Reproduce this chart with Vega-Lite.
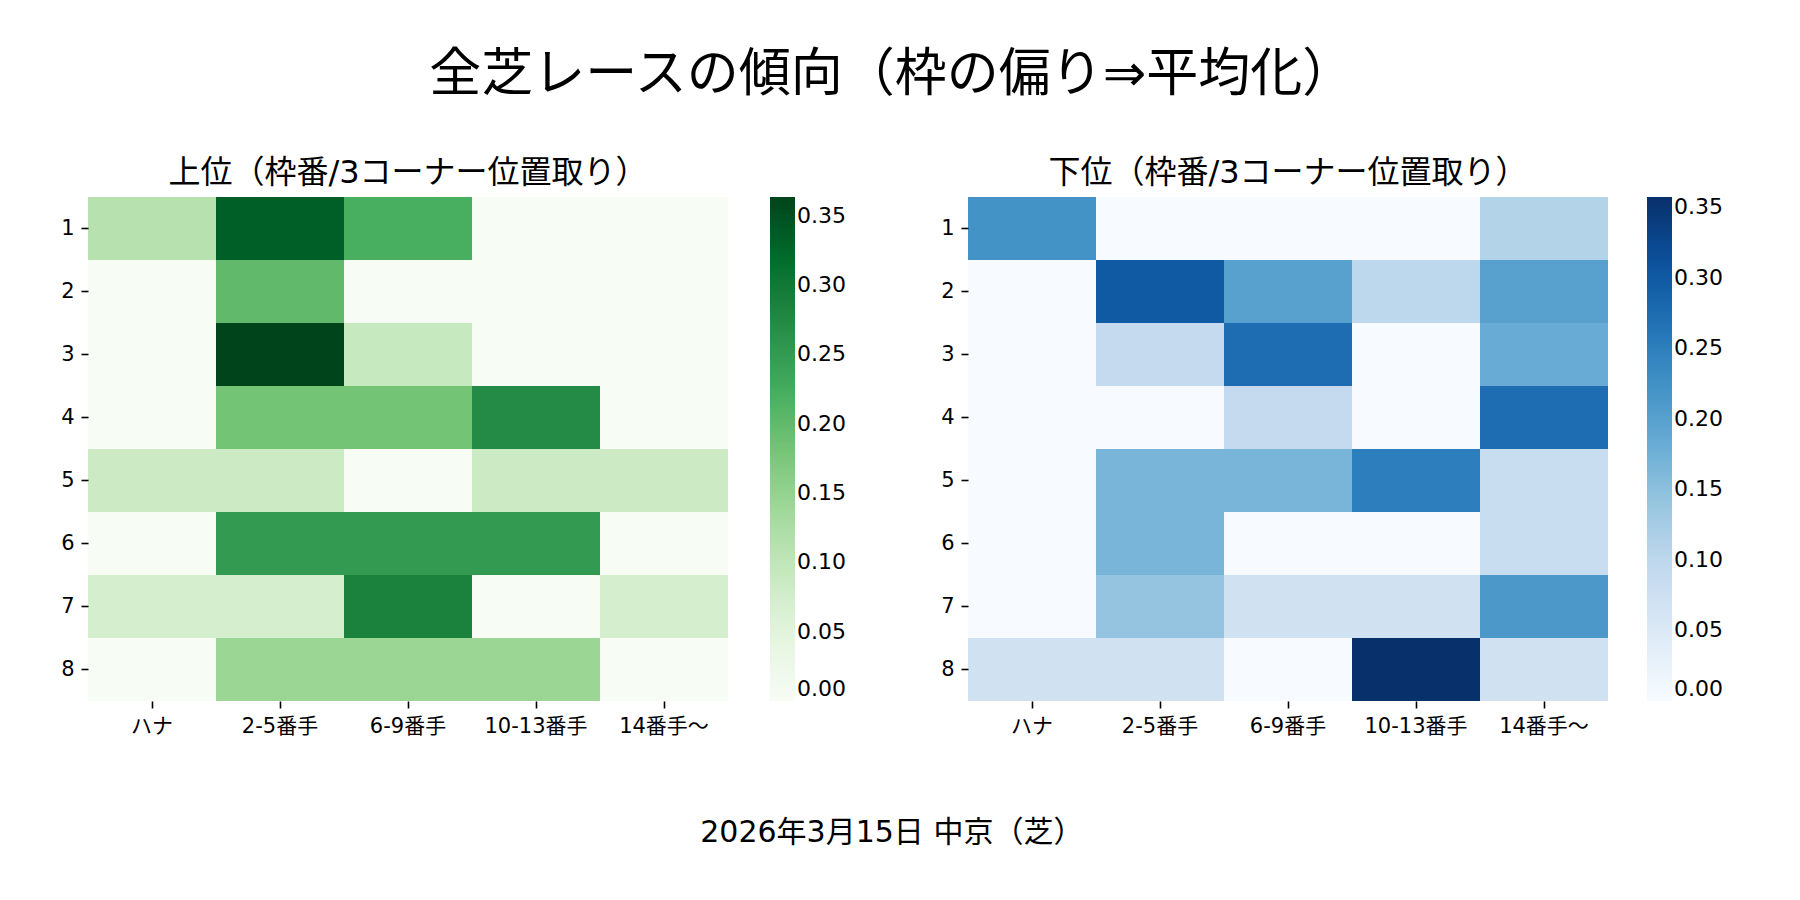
{
  "$schema": "https://vega.github.io/schema/vega-lite/v6.json",
  "background": "white",
  "padding": {"left": 60, "top": 49, "right": 10, "bottom": 10},
  "config": {
    "font": "DejaVu Sans, Noto Sans CJK JP",
    "view": {"stroke": null},
    "axis": {
      "labelFont": "DejaVu Sans, Noto Sans CJK JP",
      "labelFontSize": 21,
      "labelColor": "#000",
      "tickColor": "#000",
      "tickSize": 7,
      "tickWidth": 1.6,
      "labelPadding": 7,
      "domain": false,
      "grid": false,
      "title": null,
      "labelAngle": 0
    },
    "legend": {
      "labelFont": "DejaVu Sans, Noto Sans CJK JP",
      "labelFontSize": 22,
      "labelColor": "#000",
      "labelOffset": 22,
      "labelOverlap": false,
      "labelBaseline": "middle",
      "gradientLength": 504,
      "gradientThickness": 25,
      "gradientStrokeWidth": 0,
      "padding": 0
    },
    "title": {"font": "DejaVu Sans, Noto Sans CJK JP", "color": "#000", "fontWeight": "normal"}
  },
  "title": {"text": "全芝レースの傾向（枠の偏り⇒平均化）", "fontSize": 52, "offset": 55, "anchor": "middle"},
  "datasets": {
    "top": [
      {"waku": 1, "pos": "ハナ", "value": 0.111}, {"waku": 1, "pos": "2-5番手", "value": 0.333}, {"waku": 1, "pos": "6-9番手", "value": 0.222}, {"waku": 1, "pos": "10-13番手", "value": 0}, {"waku": 1, "pos": "14番手〜", "value": 0},
      {"waku": 2, "pos": "ハナ", "value": 0}, {"waku": 2, "pos": "2-5番手", "value": 0.2}, {"waku": 2, "pos": "6-9番手", "value": 0}, {"waku": 2, "pos": "10-13番手", "value": 0}, {"waku": 2, "pos": "14番手〜", "value": 0},
      {"waku": 3, "pos": "ハナ", "value": 0}, {"waku": 3, "pos": "2-5番手", "value": 0.3636}, {"waku": 3, "pos": "6-9番手", "value": 0.091}, {"waku": 3, "pos": "10-13番手", "value": 0}, {"waku": 3, "pos": "14番手〜", "value": 0},
      {"waku": 4, "pos": "ハナ", "value": 0}, {"waku": 4, "pos": "2-5番手", "value": 0.182}, {"waku": 4, "pos": "6-9番手", "value": 0.182}, {"waku": 4, "pos": "10-13番手", "value": 0.273}, {"waku": 4, "pos": "14番手〜", "value": 0},
      {"waku": 5, "pos": "ハナ", "value": 0.083}, {"waku": 5, "pos": "2-5番手", "value": 0.083}, {"waku": 5, "pos": "6-9番手", "value": 0}, {"waku": 5, "pos": "10-13番手", "value": 0.083}, {"waku": 5, "pos": "14番手〜", "value": 0.083},
      {"waku": 6, "pos": "ハナ", "value": 0}, {"waku": 6, "pos": "2-5番手", "value": 0.25}, {"waku": 6, "pos": "6-9番手", "value": 0.25}, {"waku": 6, "pos": "10-13番手", "value": 0.25}, {"waku": 6, "pos": "14番手〜", "value": 0},
      {"waku": 7, "pos": "ハナ", "value": 0.071}, {"waku": 7, "pos": "2-5番手", "value": 0.071}, {"waku": 7, "pos": "6-9番手", "value": 0.286}, {"waku": 7, "pos": "10-13番手", "value": 0}, {"waku": 7, "pos": "14番手〜", "value": 0.071},
      {"waku": 8, "pos": "ハナ", "value": 0}, {"waku": 8, "pos": "2-5番手", "value": 0.143}, {"waku": 8, "pos": "6-9番手", "value": 0.143}, {"waku": 8, "pos": "10-13番手", "value": 0.143}, {"waku": 8, "pos": "14番手〜", "value": 0}
    ],
    "bottom": [
      {"waku": 1, "pos": "ハナ", "value": 0.222}, {"waku": 1, "pos": "2-5番手", "value": 0}, {"waku": 1, "pos": "6-9番手", "value": 0}, {"waku": 1, "pos": "10-13番手", "value": 0}, {"waku": 1, "pos": "14番手〜", "value": 0.111},
      {"waku": 2, "pos": "ハナ", "value": 0}, {"waku": 2, "pos": "2-5番手", "value": 0.3}, {"waku": 2, "pos": "6-9番手", "value": 0.2}, {"waku": 2, "pos": "10-13番手", "value": 0.1}, {"waku": 2, "pos": "14番手〜", "value": 0.2},
      {"waku": 3, "pos": "ハナ", "value": 0}, {"waku": 3, "pos": "2-5番手", "value": 0.091}, {"waku": 3, "pos": "6-9番手", "value": 0.273}, {"waku": 3, "pos": "10-13番手", "value": 0}, {"waku": 3, "pos": "14番手〜", "value": 0.182},
      {"waku": 4, "pos": "ハナ", "value": 0}, {"waku": 4, "pos": "2-5番手", "value": 0}, {"waku": 4, "pos": "6-9番手", "value": 0.091}, {"waku": 4, "pos": "10-13番手", "value": 0}, {"waku": 4, "pos": "14番手〜", "value": 0.273},
      {"waku": 5, "pos": "ハナ", "value": 0}, {"waku": 5, "pos": "2-5番手", "value": 0.167}, {"waku": 5, "pos": "6-9番手", "value": 0.167}, {"waku": 5, "pos": "10-13番手", "value": 0.25}, {"waku": 5, "pos": "14番手〜", "value": 0.083},
      {"waku": 6, "pos": "ハナ", "value": 0}, {"waku": 6, "pos": "2-5番手", "value": 0.167}, {"waku": 6, "pos": "6-9番手", "value": 0}, {"waku": 6, "pos": "10-13番手", "value": 0}, {"waku": 6, "pos": "14番手〜", "value": 0.083},
      {"waku": 7, "pos": "ハナ", "value": 0}, {"waku": 7, "pos": "2-5番手", "value": 0.143}, {"waku": 7, "pos": "6-9番手", "value": 0.071}, {"waku": 7, "pos": "10-13番手", "value": 0.071}, {"waku": 7, "pos": "14番手〜", "value": 0.214},
      {"waku": 8, "pos": "ハナ", "value": 0.071}, {"waku": 8, "pos": "2-5番手", "value": 0.071}, {"waku": 8, "pos": "6-9番手", "value": 0}, {"waku": 8, "pos": "10-13番手", "value": 0.3571}, {"waku": 8, "pos": "14番手〜", "value": 0.071}
    ]
  },
  "vconcat": [
    {
      "title": {"text": "2026年3月15日 中京（芝）", "orient": "bottom", "fontSize": 30, "offset": 82, "anchor": "middle"},
      "spacing": 94,
      "resolve": {"scale": {"color": "independent"}, "legend": {"color": "independent"}},
      "hconcat": [
        {
          "width": 640,
          "height": 504,
          "title": {"text": "上位（枠番/3コーナー位置取り）", "fontSize": 32, "offset": 7, "frame": "group", "anchor": "middle"},
          "data": {"name": "top"},
          "mark": {"type": "rect"},
          "encoding": {
            "x": {"field": "pos", "type": "ordinal", "sort": ["ハナ", "2-5番手", "6-9番手", "10-13番手", "14番手〜"], "scale": {"paddingInner": 0, "paddingOuter": 0}},
            "y": {"field": "waku", "type": "ordinal", "scale": {"paddingInner": 0, "paddingOuter": 0}},
            "color": {
              "field": "value",
              "type": "quantitative",
              "scale": {
                "domain": [0, 0.045455, 0.090909, 0.136364, 0.181818, 0.227273, 0.272727, 0.318182, 0.363636],
                "range": ["#f7fcf5", "#e5f5e0", "#c7e9c0", "#a1d99b", "#74c476", "#41ab5d", "#238b45", "#006d2c", "#00441b"]
              },
              "legend": {"title": null, "values": [0, 0.05, 0.1, 0.15, 0.2, 0.25, 0.3, 0.35], "format": ".2f", "offset": 42}
            }
          }
        },
        {
          "width": 640,
          "height": 504,
          "title": {"text": "下位（枠番/3コーナー位置取り）", "fontSize": 32, "offset": 7, "frame": "group", "anchor": "middle"},
          "data": {"name": "bottom"},
          "mark": {"type": "rect"},
          "encoding": {
            "x": {"field": "pos", "type": "ordinal", "sort": ["ハナ", "2-5番手", "6-9番手", "10-13番手", "14番手〜"], "scale": {"paddingInner": 0, "paddingOuter": 0}},
            "y": {"field": "waku", "type": "ordinal", "scale": {"paddingInner": 0, "paddingOuter": 0}},
            "color": {
              "field": "value",
              "type": "quantitative",
              "scale": {
                "domain": [0, 0.044643, 0.089286, 0.133929, 0.178571, 0.223214, 0.267857, 0.3125, 0.357143],
                "range": ["#f7fbff", "#deebf7", "#c6dbef", "#9ecae1", "#6baed6", "#4292c6", "#2171b5", "#08519c", "#08306b"]
              },
              "legend": {"title": null, "values": [0, 0.05, 0.1, 0.15, 0.2, 0.25, 0.3, 0.35], "format": ".2f", "offset": 39}
            }
          }
        }
      ]
    }
  ]
}
